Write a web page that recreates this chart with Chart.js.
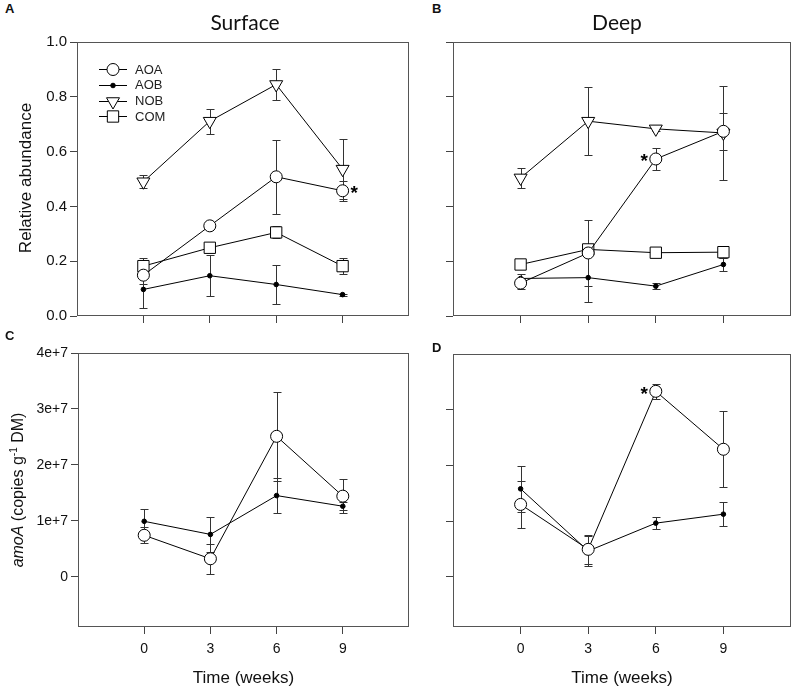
<!DOCTYPE html>
<html><head><meta charset="utf-8">
<script src="https://cdn.jsdelivr.net/npm/chart.js@4/dist/chart.umd.min.js"></script>
<style>
body{margin:0;background:#fff;width:793px;height:689px;position:relative;overflow:hidden;font-family:"Liberation Sans",Arial,sans-serif;}
canvas{position:absolute;}
.t{position:absolute;white-space:nowrap;color:#111;line-height:1;}
.lbl{font-weight:bold;font-size:13px;}
.ttl{font-family:Lato,"Open Sans",sans-serif;font-size:21px;transform:translateX(-50%);}
.ylab{transform:translate(-50%,-50%) rotate(-90deg);}
</style></head><body>
<canvas id="cA" width="420" height="300" style="left:0;top:30px"></canvas>
<canvas id="cB" width="373" height="300" style="left:420px;top:30px"></canvas>
<canvas id="cC" width="420" height="349" style="left:0;top:340px"></canvas>
<canvas id="cD" width="373" height="349" style="left:420px;top:340px"></canvas>

<div class="t lbl" style="left:5px;top:2px">A</div>
<div class="t lbl" style="left:432px;top:2px">B</div>
<div class="t lbl" style="left:5px;top:329px">C</div>
<div class="t lbl" style="left:432px;top:341px">D</div>
<div class="t ttl" style="left:245px;top:11px">Surface</div>
<div class="t ttl" style="left:617px;top:11px">Deep</div>
<div class="t ylab" style="left:25px;top:178px;font-size:17px">Relative abundance</div>
<div class="t ylab" style="left:17px;top:490px;font-size:16px"><i>amoA</i> (copies g<sup style="font-size:10px;vertical-align:6px">-1</sup> DM)</div>

<script>
// ---------- data ----------
const weeks = [0, 3, 6, 9];
const xTicks = [0, 3, 6, 9];
const relTicks = [0, 0.2, 0.4, 0.6, 0.8, 1.0];
const relTickLabels = ['0.0', '0.2', '0.4', '0.6', '0.8', '1.0'];
const amoTicks = [0, 1e7, 2e7, 3e7, 4e7];
const amoTickLabels = ['0', '1e+7', '2e+7', '3e+7', '4e+7'];
const amoDeepTicks = [0, 1e7, 2e7, 3e7];
const seriesNames = ['AOA', 'AOB', 'NOB', 'COM'];

// Relative abundance, surface (A)
const surfaceAOA = [0.149, 0.329, 0.508, 0.457];
const surfaceAOAErr = [0.034, 0, 0.135, 0.036];
const surfaceAOB = [0.097, 0.147, 0.115, 0.078];
const surfaceAOBErr = [0.069, 0.075, 0.072, 0.004];
const surfaceNOB = [0.490, 0.711, 0.845, 0.536];
const surfaceNOBErr = [0.023, 0.045, 0.058, 0.110];
const surfaceCOM = [0.182, 0.249, 0.305, 0.182];
const surfaceCOMErr = [0.031, 0.015, 0.022, 0.030];

// Relative abundance, deep (B)
const deepAOA = [0.120, 0.230, 0.573, 0.674];
const deepAOAErr = [0.020, 0.120, 0.040, 0.067];
const deepAOB = [0.137, 0.140, 0.109, 0.188];
const deepAOBErr = [0.016, 0.090, 0.010, 0.022];
const deepNOB = [0.504, 0.711, 0.683, 0.668];
const deepNOBErr = [0.037, 0.125, 0.008, 0.173];
const deepCOM = [0.188, 0.243, 0.231, 0.233];
const deepCOMErr = [0, 0.010, 0, 0.020];

// amoA copies, surface (C)
const amoSurfaceAOA = [7.4e6, 3.2e6, 2.51e7, 1.44e7];
const amoSurfaceAOAErr = [1.4e6, 2.7e6, 8.0e6, 3.0e6];
const amoSurfaceAOB = [9.9e6, 7.56e6, 1.45e7, 1.26e7];
const amoSurfaceAOBErr = [2.2e6, 3.1e6, 3.2e6, 0.7e6];

// amoA copies, deep (D)
const amoDeepAOA = [1.30e7, 4.94e6, 3.33e7, 2.29e7];
const amoDeepAOAErr = [4.2e6, 2.6e6, 1.4e6, 6.8e6];
const amoDeepAOB = [1.58e7, 4.64e6, 9.64e6, 1.125e7];
const amoDeepAOBErr = [4.1e6, 2.7e6, 1.1e6, 2.2e6];

// significance markers: series name, week
const surfaceStars = [{ series: 'AOA', week: 9, side: 1 }];
const deepStars = [{ series: 'AOA', week: 6, side: -1 }];
const amoDeepStars = [{ series: 'AOA', week: 6, side: -1 }];

// ---------- styles ----------
const FONT = '"Liberation Sans", Arial, sans-serif';
const markerStyles = {
  AOA: { pointStyle: 'circle', radius: 6, bg: '#ffffff' },
  AOB: { pointStyle: 'circle', radius: 2.3, bg: '#000000' },
  NOB: { pointStyle: 'triangle', radius: 7.5, rotation: 180, bg: '#ffffff' },
  COM: { pointStyle: 'rect', radius: 8, bg: '#ffffff' }
};

const boxPlugin = {
  id: 'box',
  beforeDatasetsDraw(chart) {
    const a = chart.chartArea, ctx = chart.ctx;
    ctx.save();
    ctx.strokeStyle = '#555';
    ctx.lineWidth = 1;
    ctx.strokeRect(Math.round(a.left) + 0.5, Math.round(a.top) + 0.5,
      Math.round(a.right) - Math.round(a.left) - 1, Math.round(a.bottom) - Math.round(a.top) - 1);
    ctx.restore();
  }
};

const errorBarPlugin = {
  id: 'errbars',
  beforeDatasetsDraw(chart) {
    const ctx = chart.ctx, x = chart.scales.x, y = chart.scales.y;
    ctx.save();
    ctx.strokeStyle = '#333';
    ctx.lineWidth = 1;
    chart.data.datasets.forEach(ds => {
      if (!ds.errors) return;
      ds.data.forEach((p, i) => {
        const e = ds.errors[i];
        if (!e) return;
        const px = Math.round(x.getPixelForValue(p.x)) + 0.5;
        const y1 = Math.round(y.getPixelForValue(p.y + e)) + 0.5;
        const y2 = Math.round(y.getPixelForValue(p.y - e)) + 0.5;
        ctx.beginPath();
        ctx.moveTo(px, y1); ctx.lineTo(px, y2);
        ctx.moveTo(px - 4, y1); ctx.lineTo(px + 4, y1);
        ctx.moveTo(px - 4, y2); ctx.lineTo(px + 4, y2);
        ctx.stroke();
      });
    });
    ctx.restore();
  }
};

const starPlugin = {
  id: 'stars',
  afterDatasetsDraw(chart) {
    const stars = chart.options.plugins.stars && chart.options.plugins.stars.items;
    if (!stars) return;
    const ctx = chart.ctx, x = chart.scales.x, y = chart.scales.y;
    ctx.save();
    ctx.fillStyle = '#000';
    ctx.font = 'bold 19px ' + FONT;
    ctx.textBaseline = 'middle';
    stars.forEach(s => {
      const ds = chart.data.datasets.find(d => d.label === s.series);
      const pt = ds.data.find(p => p.x === s.week);
      const px = x.getPixelForValue(pt.x), py = y.getPixelForValue(pt.y);
      ctx.textAlign = s.side > 0 ? 'left' : 'right';
      ctx.fillText('*', px + s.side * 8, py + 3);
    });
    ctx.restore();
  }
};

const legendPlugin = {
  id: 'insideLegend',
  afterDraw(chart) {
    const opt = chart.options.plugins.insideLegend;
    if (!opt || !opt.show) return;
    const ctx = chart.ctx, a = chart.chartArea;
    const x0 = a.left + 22, x1 = a.left + 50, xm = a.left + 36, xt = a.left + 58;
    let yy = a.top + 27;
    ctx.save();
    chart.data.datasets.forEach(ds => {
      const st = markerStyles[ds.label];
      ctx.strokeStyle = '#000';
      ctx.lineWidth = 1;
      ctx.beginPath();
      ctx.moveTo(x0, Math.round(yy) + 0.5); ctx.lineTo(x1, Math.round(yy) + 0.5);
      ctx.stroke();
      ctx.fillStyle = st.bg;
      Chart.helpers.drawPoint(ctx, { pointStyle: st.pointStyle, radius: st.radius, rotation: st.rotation || 0, borderWidth: 1 }, xm, Math.round(yy) + 0.5);
      ctx.fillStyle = '#222';
      ctx.font = '13px ' + FONT;
      ctx.textAlign = 'left';
      ctx.textBaseline = 'middle';
      ctx.fillText(ds.label, xt, yy + 1);
      yy += 15.8;
    });
    ctx.restore();
  }
};

function makeDatasets(list) {
  return list.map(s => {
    const st = markerStyles[s.name];
    return {
      label: s.name,
      data: weeks.map((w, i) => ({ x: w, y: s.values[i] })),
      errors: s.errors,
      borderColor: '#000',
      borderWidth: 1,
      backgroundColor: st.bg,
      pointBackgroundColor: st.bg,
      pointBorderColor: '#000',
      pointBorderWidth: 1,
      pointRadius: st.radius,
      pointStyle: st.pointStyle,
      pointRotation: st.rotation || 0,
      tension: 0,
      fill: false
    };
  });
}

function panel(id, p) {
  const yLabelOf = v => { const k = p.yTicks.indexOf(v); return k >= 0 ? p.yLabels[k] : ''; };
  return new Chart(document.getElementById(id), {
    type: 'line',
    data: { datasets: makeDatasets(p.series) },
    options: {
      responsive: false,
      animation: false,
      devicePixelRatio: 1,
      layout: { autoPadding: false, padding: p.padding },
      plugins: {
        legend: { display: false },
        tooltip: { enabled: false },
        stars: { items: p.stars },
        insideLegend: { show: !!p.legend }
      },
      scales: {
        x: {
          type: 'linear', min: -3, max: 12,
          afterBuildTicks: sc => { sc.ticks = xTicks.map(v => ({ value: v })); },
          afterFit: sc => { sc.height = p.xHeight; },
          grid: { drawOnChartArea: false, drawTicks: true, tickLength: 7, tickColor: '#444' },
          border: { display: false },
          ticks: { display: p.showX, color: '#111', font: { family: FONT, size: 14 }, padding: 7, maxRotation: 0, callback: v => String(v) },
          title: { display: p.showX, text: 'Time (weeks)', color: '#111', font: { family: FONT, size: 17 }, padding: 0 }
        },
        y: {
          type: 'linear', min: p.yMin, max: p.yMax,
          afterBuildTicks: sc => { sc.ticks = p.yTicks.map(v => ({ value: v })); },
          afterFit: sc => { sc.width = p.yWidth; },
          grid: { drawOnChartArea: false, drawTicks: true, tickLength: 7, tickColor: '#444' },
          border: { display: false },
          ticks: { display: p.showY, color: '#111', font: { family: FONT, size: p.yFont }, padding: 3, callback: yLabelOf }
        }
      }
    },
    plugins: [boxPlugin, errorBarPlugin, starPlugin, legendPlugin]
  });
}

panel('cA', {
  series: [
    { name: 'AOA', values: surfaceAOA, errors: surfaceAOAErr },
    { name: 'AOB', values: surfaceAOB, errors: surfaceAOBErr },
    { name: 'NOB', values: surfaceNOB, errors: surfaceNOBErr },
    { name: 'COM', values: surfaceCOM, errors: surfaceCOMErr }
  ],
  yTicks: relTicks, yLabels: relTickLabels, yMin: 0, yMax: 1, yFont: 15,
  showY: true, showX: false, yWidth: 77, xHeight: 14,
  padding: { top: 12, right: 11, left: 0, bottom: 0 },
  stars: surfaceStars, legend: true
});

panel('cB', {
  series: [
    { name: 'AOA', values: deepAOA, errors: deepAOAErr },
    { name: 'AOB', values: deepAOB, errors: deepAOBErr },
    { name: 'NOB', values: deepNOB, errors: deepNOBErr },
    { name: 'COM', values: deepCOM, errors: deepCOMErr }
  ],
  yTicks: relTicks, yLabels: relTickLabels, yMin: 0, yMax: 1, yFont: 15,
  showY: false, showX: false, yWidth: 33, xHeight: 14,
  padding: { top: 12, right: 2, left: 0, bottom: 0 },
  stars: deepStars, legend: false
});

panel('cC', {
  series: [
    { name: 'AOA', values: amoSurfaceAOA, errors: amoSurfaceAOAErr },
    { name: 'AOB', values: amoSurfaceAOB, errors: amoSurfaceAOBErr }
  ],
  yTicks: amoTicks, yLabels: amoTickLabels, yMin: -9e6, yMax: 4e7, yFont: 14,
  showY: true, showX: true, yWidth: 78, xHeight: 62,
  padding: { top: 13, right: 11, left: 0, bottom: 0 },
  stars: [], legend: false
});

panel('cD', {
  series: [
    { name: 'AOA', values: amoDeepAOA, errors: amoDeepAOAErr },
    { name: 'AOB', values: amoDeepAOB, errors: amoDeepAOBErr }
  ],
  yTicks: amoDeepTicks, yLabels: amoTickLabels, yMin: -9e6, yMax: 4e7, yFont: 14,
  showY: false, showX: true, yWidth: 33, xHeight: 62,
  padding: { top: 14, right: 2, left: 0, bottom: 0 },
  stars: amoDeepStars, legend: false
});
</script>
</body></html>
